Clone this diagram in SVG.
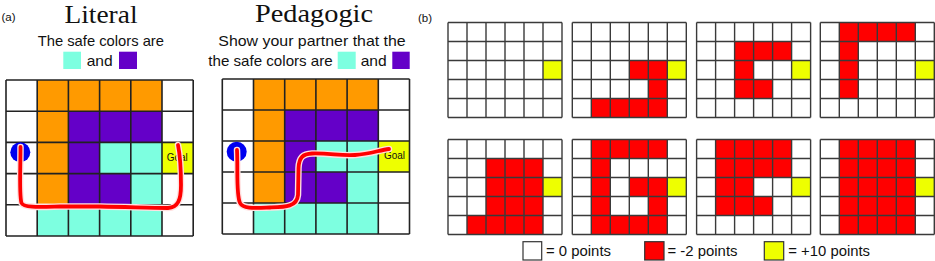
<svg xmlns="http://www.w3.org/2000/svg" xmlns:xlink="http://www.w3.org/1999/xlink" width="935" height="261" viewBox="0 0 935 261">
<style>
.t{font-family:"Liberation Sans",Arial,sans-serif;fill:#111}
.title{font-family:"Liberation Serif","Times New Roman",serif;fill:#111}
.gl{fill:none;stroke:#222;stroke-width:1.6}
.sgl{fill:none;stroke:#3a3a3a;stroke-width:1.4}
.O{fill:#FF9A00}.P{fill:#6400C8}.C{fill:#7DFFE0}.Y{fill:#EEFF00}.R{fill:#FF0000}.W{fill:#fff}
.halo{fill:none;stroke:#ffe0e0;stroke-width:6.5;stroke-linecap:round;stroke-linejoin:round}
.trail{fill:none;stroke:#FF0000;stroke-width:3.8;stroke-linecap:round;stroke-linejoin:round}
.agent{fill:#0000F0}
</style>
<defs>
<g id="bigbase">
<rect class="W" x="0" y="0" width="187.2" height="156"/>
<rect class="O" x="31.2" y="0" width="124.8" height="31.2"/>
<rect class="O" x="31.2" y="31.2" width="31.2" height="93.6"/>
<rect class="P" x="62.4" y="31.2" width="93.6" height="31.2"/>
<rect class="P" x="62.4" y="62.4" width="31.2" height="31.2"/>
<rect class="P" x="62.4" y="93.6" width="62.4" height="31.2"/>
<rect class="C" x="93.6" y="62.4" width="62.4" height="31.2"/>
<rect class="C" x="124.8" y="93.6" width="31.2" height="31.2"/>
<rect class="C" x="31.2" y="124.8" width="124.8" height="31.2"/>
<rect class="Y" x="156" y="62.4" width="31.2" height="31.2"/>
<path class="gl" d="M0,0H187.2M0,31.2H187.2M0,62.4H187.2M0,93.6H187.2M0,124.8H187.2M0,156H187.2M0,0V156M31.2,0V156M62.4,0V156M93.6,0V156M124.8,0V156M156,0V156M187.2,0V156"/>
</g>
<path id="sgrid" class="sgl" d="M0,0H114M0,19H114M0,38H114M0,57H114M0,76H114M0,95H114M0,0V95M19,0V95M38,0V95M57,0V95M76,0V95M95,0V95M114,0V95"/>
<rect id="goal" class="Y" x="95" y="38" width="19" height="19"/>
</defs>

<text class="t" x="1.5" y="21" font-size="11.5">(a)</text>
<text class="t" x="418" y="22" font-size="11.5">(b)</text>

<g id="literal">
<text class="title" x="101" y="22.7" font-size="26" text-anchor="middle" textLength="73" lengthAdjust="spacingAndGlyphs">Literal</text>
<text class="t" x="37.7" y="45.7" font-size="14.5" textLength="126.3" lengthAdjust="spacingAndGlyphs">The safe colors are</text>
<rect class="C" x="63.3" y="51.7" width="17.7" height="17.3"/>
<text class="t" x="86.7" y="66" font-size="14.5" textLength="26" lengthAdjust="spacingAndGlyphs">and</text>
<rect class="P" x="119" y="51.7" width="18" height="17.3"/>
<use xlink:href="#bigbase" href="#bigbase" transform="translate(6,80)"/>
<text class="t" x="166.7" y="161" font-size="10.5" textLength="21" lengthAdjust="spacingAndGlyphs">Goal</text>
<circle class="agent" cx="20.3" cy="152.3" r="10"/>
</g>

<g id="pedagogic">
<text class="title" x="314" y="22" font-size="26" text-anchor="middle" textLength="118" lengthAdjust="spacingAndGlyphs">Pedagogic</text>
<text class="t" x="218.3" y="45.7" font-size="14.5" textLength="187.4" lengthAdjust="spacingAndGlyphs">Show your partner that the</text>
<text class="t" x="208.3" y="66" font-size="14.5" textLength="124.4" lengthAdjust="spacingAndGlyphs">the safe colors are</text>
<rect class="C" x="337.7" y="51.7" width="18" height="17.3"/>
<text class="t" x="360.7" y="66" font-size="14.5" textLength="26" lengthAdjust="spacingAndGlyphs">and</text>
<rect class="P" x="392.3" y="51.7" width="17.4" height="17.3"/>
<use xlink:href="#bigbase" href="#bigbase" transform="translate(222.3,79) scale(1,0.994)"/>
<text class="t" x="384" y="159.3" font-size="10.5" textLength="21" lengthAdjust="spacingAndGlyphs">Goal</text>
<circle class="agent" cx="236.7" cy="151.7" r="10"/>
</g>

<g id="connectors">
<path class="halo" d="M20.5,147 C20.5,170 19,195 21.5,203 C24,208 40,207 60,206.5 L100,206.5 C130,207 150,208 168,208 C178,207.5 181,200 181,185 C181,170 180,155 178,145"/>
<path class="trail" d="M20.5,147 C20.5,170 19,195 21.5,203 C24,208 40,207 60,206.5 L100,206.5 C130,207 150,208 168,208 C178,207.5 181,200 181,185 C181,170 180,155 178,145"/>
<path class="halo" d="M237,150 C238,170 236,195 240,203 C243,209 255,208 270,207.5 C285,207 297,207 298,195 L298.5,168 C299,157 303,154 312,153.5 C330,153 340,156 355,155 C370,154 380,150 389,149"/>
<path class="trail" d="M237,150 C238,170 236,195 240,203 C243,209 255,208 270,207.5 C285,207 297,207 298,195 L298.5,168 C299,157 303,154 312,153.5 C330,153 340,156 355,155 C370,154 380,150 389,149"/>
</g>

<g id="grid1" transform="translate(448,22.5)">
<rect class="W" width="114" height="95"/>
<use xlink:href="#goal" href="#goal"/>
<use xlink:href="#sgrid" href="#sgrid"/>
</g>
<g id="grid2" transform="translate(572.3,22.5)">
<rect class="W" width="114" height="95"/>
<rect class="R" x="57" y="38" width="38" height="19"/>
<rect class="R" x="76" y="57" width="19" height="19"/>
<rect class="R" x="19" y="76" width="76" height="19"/>
<use xlink:href="#goal" href="#goal"/>
<use xlink:href="#sgrid" href="#sgrid"/>
</g>
<g id="grid3" transform="translate(696.6,22.5)">
<rect class="W" width="114" height="95"/>
<rect class="R" x="38" y="19" width="57" height="19"/>
<rect class="R" x="38" y="38" width="19" height="19"/>
<rect class="R" x="38" y="57" width="38" height="19"/>
<use xlink:href="#goal" href="#goal"/>
<use xlink:href="#sgrid" href="#sgrid"/>
</g>
<g id="grid4" transform="translate(820.3,22.5)">
<rect class="W" width="114" height="95"/>
<rect class="R" x="19" y="0" width="76" height="19"/>
<rect class="R" x="19" y="19" width="19" height="57"/>
<use xlink:href="#goal" href="#goal"/>
<use xlink:href="#sgrid" href="#sgrid"/>
</g>
<g id="grid5" transform="translate(448,139.5)">
<rect class="W" width="114" height="95"/>
<rect class="R" x="38" y="19" width="57" height="57"/>
<rect class="R" x="19" y="76" width="76" height="19"/>
<use xlink:href="#goal" href="#goal"/>
<use xlink:href="#sgrid" href="#sgrid"/>
</g>
<g id="grid6" transform="translate(572.3,139.5)">
<rect class="W" width="114" height="95"/>
<rect class="R" x="19" y="0" width="76" height="19"/>
<rect class="R" x="19" y="76" width="76" height="19"/>
<rect class="R" x="19" y="19" width="19" height="57"/>
<rect class="R" x="57" y="38" width="38" height="19"/>
<rect class="R" x="76" y="57" width="19" height="19"/>
<use xlink:href="#goal" href="#goal"/>
<use xlink:href="#sgrid" href="#sgrid"/>
</g>
<g id="grid7" transform="translate(696.6,139.5)">
<rect class="W" width="114" height="95"/>
<rect class="R" x="19" y="0" width="76" height="38"/>
<rect class="R" x="19" y="38" width="38" height="19"/>
<rect class="R" x="19" y="57" width="57" height="19"/>
<use xlink:href="#goal" href="#goal"/>
<use xlink:href="#sgrid" href="#sgrid"/>
</g>
<g id="grid8" transform="translate(820.3,139.5)">
<rect class="W" width="114" height="95"/>
<rect class="R" x="19" y="0" width="76" height="95"/>
<use xlink:href="#goal" href="#goal"/>
<use xlink:href="#sgrid" href="#sgrid"/>
</g>

<g id="legend">
<rect class="W" x="523" y="241.7" width="18.7" height="18.3" stroke="#333" stroke-width="1.2"/>
<text class="t" x="546" y="255.5" font-size="14" textLength="65" lengthAdjust="spacingAndGlyphs">= 0 points</text>
<rect class="R" x="644.7" y="241.7" width="19.3" height="18.3" stroke="#333" stroke-width="1.2"/>
<text class="t" x="667.5" y="255.5" font-size="14" textLength="70" lengthAdjust="spacingAndGlyphs">= -2 points</text>
<rect class="Y" x="764.3" y="241.7" width="19.4" height="18.3" stroke="#333" stroke-width="1.2"/>
<text class="t" x="788.3" y="255.5" font-size="14" textLength="81.7" lengthAdjust="spacingAndGlyphs">= +10 points</text>
</g>
</svg>
